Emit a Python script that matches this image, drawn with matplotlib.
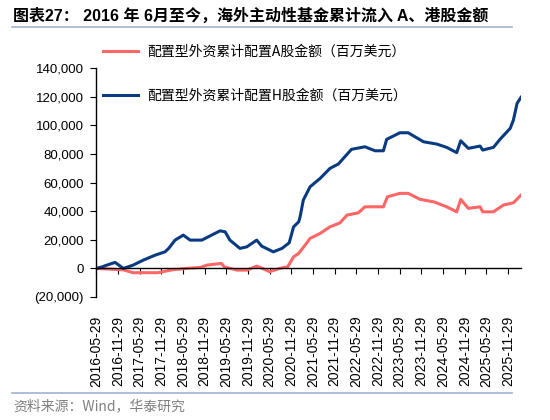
import matplotlib
matplotlib.use("Agg")
import matplotlib.pyplot as plt
from matplotlib.lines import Line2D
from matplotlib.ticker import FuncFormatter, FixedLocator, FixedFormatter
import matplotlib.dates as mdates
import pandas as pd

plt.rcParams['font.family'] = ['Liberation Sans', 'Noto Sans CJK SC', 'DejaVu Sans']

# H-share series (blue)
h_dates = ["2016-05-29", "2016-07-15", "2016-08-15", "2016-11-03", "2017-01-13", "2017-04-04",
           "2017-06-29", "2017-10-08", "2017-12-29", "2018-01-29", "2018-03-24", "2018-06-01",
           "2018-07-29", "2018-11-04", "2018-12-29", "2019-04-07", "2019-05-20", "2019-06-29",
           "2019-09-22", "2019-11-19", "2020-02-10", "2020-03-23", "2020-06-29", "2020-09-10",
           "2020-11-10", "2020-12-17", "2021-01-29", "2021-02-10", "2021-03-09", "2021-05-05",
           "2021-07-29", "2021-10-20", "2021-12-29", "2022-02-10", "2022-04-19", "2022-08-10",
           "2022-11-04", "2023-01-13", "2023-02-10", "2023-06-01", "2023-08-10", "2023-12-17",
           "2024-04-07", "2024-06-29", "2024-09-22", "2024-10-26", "2024-12-29", "2025-04-07",
           "2025-04-29", "2025-07-29", "2025-09-22", "2025-12-17", "2026-01-13", "2026-02-13",
           "2026-03-18"]
h_vals = [0, 1000, 2000, 4200, 0, 2300,
          5800, 9300, 11600, 14000, 19800, 23300,
          19800, 19800, 22100, 26300, 25600, 19800,
          14000, 15100, 19800, 15600, 11600, 14000,
          17900, 29100, 32600, 36100, 47800, 57100,
          63000, 70000, 73000, 77000, 83300, 85100,
          82300, 82300, 90300, 94900, 94900, 88600,
          87000, 84700, 81000, 89300, 84000, 85600,
          82800, 84700, 90300, 98000, 103800, 115500,
          119700]

# A-share series (red)
a_dates = ["2016-05-29", "2017-01-13", "2017-04-04", "2017-10-29", "2018-02-28", "2018-06-29",
           "2018-10-23", "2018-12-17", "2019-04-19", "2019-05-14", "2019-08-29", "2019-11-19",
           "2020-02-10", "2020-03-29", "2020-05-29", "2020-08-22", "2020-10-29", "2020-12-17",
           "2021-01-29", "2021-03-24", "2021-05-05", "2021-07-29", "2021-10-20", "2022-01-13",
           "2022-03-12", "2022-06-16", "2022-08-10", "2023-01-13", "2023-02-16", "2023-06-01",
           "2023-08-10", "2023-11-19", "2024-03-12", "2024-06-29", "2024-09-22", "2024-10-26",
           "2024-12-29", "2025-04-07", "2025-04-29", "2025-07-29", "2025-10-20", "2026-01-13",
           "2026-03-18"]
a_vals = [0, -1000, -3000, -3000, -1000, 0,
          700, 2300, 3500, 1000, -1200, -1200,
          1600, 0, -2300, 0, 1200, 8100,
          10500, 16300, 21000, 24500, 29100, 31900,
          37300, 38900, 43100, 43100, 50100, 52500,
          52500, 48300, 46600, 43100, 39600, 48300,
          42000, 43100, 39600, 39600, 44300, 45900,
          51300]

tick_labels = [f"{y}-{m}-29" for y in range(2016, 2026) for m in ("05", "11")]

title = "图表27： 2016 年 6月至今，海外主动性基金累计流入 A、港股金额"
label_a = "配置型外资累计配置A股金额（百万美元）"
label_h = "配置型外资累计配置H股金额（百万美元）"
source = "资料来源：Wind，华泰研究"

fig = plt.figure(figsize=(5.5, 4.2), dpi=100)
ax = fig.add_axes([96.3 / 550, 1 - 297 / 420, (521 - 96.3) / 550, (297 - 68.3) / 420])

ax.plot(mdates.date2num(pd.to_datetime(a_dates)), a_vals, color='#FF6666', lw=2.2, label=label_a)
ax.plot(mdates.date2num(pd.to_datetime(h_dates)), h_vals, color='#0A3A80', lw=2.2, label=label_h)

ax.set_ylim(-20000, 140000)
ax.set_yticks(range(-20000, 140001, 20000))

def fmt(v, pos):
    if v < 0:
        return f"({-v:,.0f})"
    return f"{v:,.0f}"

ax.yaxis.set_major_formatter(FuncFormatter(fmt))

ax.set_xlim(mdates.date2num(pd.Timestamp("2016-05-29")), mdates.date2num(pd.Timestamp(h_dates[-1])))
ax.xaxis.set_major_locator(FixedLocator(mdates.date2num(pd.to_datetime(tick_labels))))
ax.xaxis.set_major_formatter(FixedFormatter(tick_labels))

for s in ['top', 'right']:
    ax.spines[s].set_visible(False)
ax.spines['bottom'].set_position(('data', 0))
ax.spines['bottom'].set_linewidth(1.0)
ax.spines['left'].set_linewidth(1.0)
ax.tick_params(axis='x', direction='out', length=4, pad=30, labelsize=10, labelrotation=90)
ax.tick_params(axis='y', direction='out', length=4, pad=5, labelsize=9.5)

ax.legend(loc='upper left', bbox_to_anchor=(103 / 550, 1 - 45 / 420), bbox_transform=fig.transFigure,
          frameon=False, borderpad=0, borderaxespad=0, labelspacing=2.15, handlelength=2.5,
          handletextpad=0.7, prop={'family': ['Noto Sans CJK SC'], 'size': 10})

fig.text(13 / 550, 1 - 16 / 420, title, fontsize=11.5, fontweight='bold', va='center', ha='left')
fig.add_artist(Line2D([12 / 550, 512 / 550], [1 - 27 / 420, 1 - 27 / 420], color='#9DB3D2', lw=1.2))
fig.add_artist(Line2D([12 / 550, 512 / 550], [1 - 393 / 420, 1 - 393 / 420], color='#9DB3D2', lw=1.2))
fig.text(13 / 550, 1 - 406 / 420, source, fontsize=10, color='#808080', va='center', ha='left',
         family=['Noto Sans CJK SC'])

fig.savefig("out.png", dpi=100)
